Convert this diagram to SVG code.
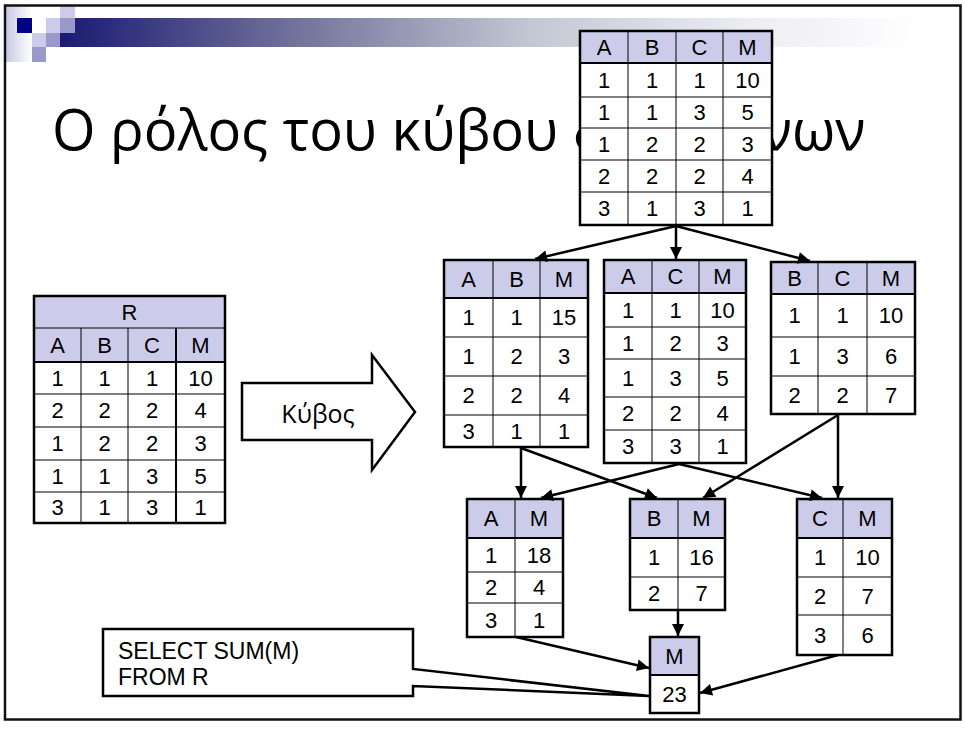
<svg xmlns="http://www.w3.org/2000/svg" width="965" height="729" viewBox="0 0 965 729">
<defs>
<linearGradient id="band" x1="0" y1="0" x2="1" y2="0">
<stop offset="0" stop-color="#1a1a73"/>
<stop offset="0.3" stop-color="#7a7aa0"/>
<stop offset="0.55" stop-color="#c4c8d4"/>
<stop offset="0.8" stop-color="#ececf2"/>
<stop offset="1" stop-color="#ffffff"/>
</linearGradient>
<linearGradient id="leftg" x1="0" y1="0" x2="1" y2="0">
<stop offset="0" stop-color="#c8c8e4"/>
<stop offset="1" stop-color="#ffffff"/>
</linearGradient>
<marker id="ah" viewBox="0 0 10 10" refX="10" refY="5" markerWidth="13" markerHeight="12" markerUnits="userSpaceOnUse" orient="auto">
<path d="M0,0 L10,5 L0,10 z" fill="#000"/>
</marker>
<style>
.hd{fill:#ccccea}
.cell{fill:#fff}
.ol{fill:none;stroke:#000;stroke-width:2.5}
.il{stroke:#000;stroke-width:1;fill:none}
.tl{stroke:#000;stroke-width:2;fill:none}
.t{font-family:"Liberation Sans",Arial,sans-serif;font-size:22px;text-anchor:middle;fill:#000}
.q{font-family:"Liberation Sans",Arial,sans-serif;font-size:23px;fill:#000}
.con line{stroke:#000;stroke-width:2.5;fill:none}
.con .a{marker-end:url(#ah)}
</style>
</defs>
<rect x="0" y="0" width="965" height="729" fill="#fff"/>
<g id="decor">
<rect x="5" y="6" width="27" height="56" fill="url(#leftg)"/>
<rect x="60" y="18" width="860" height="29" fill="url(#band)"/>
<rect x="17" y="18" width="15" height="15" fill="#000080"/>
<rect x="60" y="5" width="15" height="13" fill="#ccccea"/>
<rect x="46" y="18" width="14" height="15" fill="#ccccea"/>
<rect x="60" y="18" width="15" height="15" fill="#9999cc"/>
<rect x="32" y="33" width="14" height="14" fill="#ccccea"/>
<rect x="46" y="33" width="14" height="14" fill="#9999cc"/>
<rect x="32" y="47" width="14" height="15" fill="#9999cc"/>
</g>
<text id="title" x="52" y="150" font-family="'Open Sans','Noto Sans',sans-serif" font-size="56" fill="#000">Ο ρόλος του κύβου δεδομένων</text>

<g id="tableR">
<rect x="34" y="296" width="191" height="66" class="hd"/>
<rect x="34" y="362" width="191" height="161" class="cell"/>
<line class="il" x1="34" y1="328" x2="225" y2="328"/>
<line class="tl" x1="34" y1="362" x2="225" y2="362"/>
<line class="il" x1="34" y1="394" x2="225" y2="394"/>
<line class="il" x1="34" y1="427" x2="225" y2="427"/>
<line class="il" x1="34" y1="460" x2="225" y2="460"/>
<line class="il" x1="34" y1="492" x2="225" y2="492"/>
<line class="il" x1="81" y1="328" x2="81" y2="523"/>
<line class="il" x1="128" y1="328" x2="128" y2="523"/>
<line class="tl" x1="176" y1="328" x2="176" y2="523"/>
<rect x="34" y="296" width="191" height="227" class="ol"/>
<text class="t" x="129.5" y="320">R</text>
<text class="t" x="57.5" y="353">A</text><text class="t" x="104.5" y="353">B</text><text class="t" x="152" y="353">C</text><text class="t" x="200.5" y="353">M</text>
<text class="t" x="57.5" y="386">1</text><text class="t" x="104.5" y="386">1</text><text class="t" x="152" y="386">1</text><text class="t" x="200.5" y="386">10</text>
<text class="t" x="57.5" y="418">2</text><text class="t" x="104.5" y="418">2</text><text class="t" x="152" y="418">2</text><text class="t" x="200.5" y="418">4</text>
<text class="t" x="57.5" y="451">1</text><text class="t" x="104.5" y="451">2</text><text class="t" x="152" y="451">2</text><text class="t" x="200.5" y="451">3</text>
<text class="t" x="57.5" y="484">1</text><text class="t" x="104.5" y="484">1</text><text class="t" x="152" y="484">3</text><text class="t" x="200.5" y="484">5</text>
<text class="t" x="57.5" y="515">3</text><text class="t" x="104.5" y="515">1</text><text class="t" x="152" y="515">3</text><text class="t" x="200.5" y="515">1</text>
</g>

<g id="cube">
<polygon points="242,383 372,383 372,355 415,412 372,470 372,440 242,440" fill="#fff" stroke="#000" stroke-width="2.5" stroke-linejoin="miter"/>
<text x="318" y="423" font-family="'Open Sans','Noto Sans',sans-serif" font-size="25" text-anchor="middle" fill="#000">Κύβος</text>
</g>

<g id="tableABCM">
<rect x="580" y="31" width="192" height="32" class="hd"/>
<rect x="580" y="63" width="192" height="162" class="cell"/>
<line class="tl" x1="580" y1="63" x2="772" y2="63"/>
<line class="il" x1="580" y1="97" x2="772" y2="97"/>
<line class="il" x1="580" y1="128" x2="772" y2="128"/>
<line class="il" x1="580" y1="160" x2="772" y2="160"/>
<line class="il" x1="580" y1="192" x2="772" y2="192"/>
<line class="il" x1="628" y1="31" x2="628" y2="225"/>
<line class="il" x1="676" y1="31" x2="676" y2="225"/>
<line class="il" x1="723" y1="31" x2="723" y2="225"/>
<rect x="580" y="31" width="192" height="194" class="ol"/>
<text class="t" x="604" y="55">A</text><text class="t" x="652" y="55">B</text><text class="t" x="699.5" y="55">C</text><text class="t" x="747.5" y="55">M</text>
<text class="t" x="604" y="88">1</text><text class="t" x="652" y="88">1</text><text class="t" x="699.5" y="88">1</text><text class="t" x="747.5" y="88">10</text>
<text class="t" x="604" y="120">1</text><text class="t" x="652" y="120">1</text><text class="t" x="699.5" y="120">3</text><text class="t" x="747.5" y="120">5</text>
<text class="t" x="604" y="152">1</text><text class="t" x="652" y="152">2</text><text class="t" x="699.5" y="152">2</text><text class="t" x="747.5" y="152">3</text>
<text class="t" x="604" y="184">2</text><text class="t" x="652" y="184">2</text><text class="t" x="699.5" y="184">2</text><text class="t" x="747.5" y="184">4</text>
<text class="t" x="604" y="216">3</text><text class="t" x="652" y="216">1</text><text class="t" x="699.5" y="216">3</text><text class="t" x="747.5" y="216">1</text>
</g>

<g id="tableABM">
<rect x="444" y="260" width="144" height="38" class="hd"/>
<rect x="444" y="298" width="144" height="149" class="cell"/>
<line class="tl" x1="444" y1="298" x2="588" y2="298"/>
<line class="il" x1="444" y1="337" x2="588" y2="337"/>
<line class="il" x1="444" y1="376" x2="588" y2="376"/>
<line class="il" x1="444" y1="415" x2="588" y2="415"/>
<line class="il" x1="493" y1="260" x2="493" y2="447"/>
<line class="il" x1="540" y1="260" x2="540" y2="447"/>
<rect x="444" y="260" width="144" height="187" class="ol"/>
<text class="t" x="468.5" y="287">A</text><text class="t" x="516.5" y="287">B</text><text class="t" x="564" y="287">M</text>
<text class="t" x="468.5" y="325">1</text><text class="t" x="516.5" y="325">1</text><text class="t" x="564" y="325">15</text>
<text class="t" x="468.5" y="364">1</text><text class="t" x="516.5" y="364">2</text><text class="t" x="564" y="364">3</text>
<text class="t" x="468.5" y="403">2</text><text class="t" x="516.5" y="403">2</text><text class="t" x="564" y="403">4</text>
<text class="t" x="468.5" y="439">3</text><text class="t" x="516.5" y="439">1</text><text class="t" x="564" y="439">1</text>
</g>

<g id="tableACM">
<rect x="604" y="260" width="142" height="33" class="hd"/>
<rect x="604" y="293" width="142" height="170" class="cell"/>
<line class="tl" x1="604" y1="293" x2="746" y2="293"/>
<line class="il" x1="604" y1="327" x2="746" y2="327"/>
<line class="il" x1="604" y1="359" x2="746" y2="359"/>
<line class="il" x1="604" y1="397" x2="746" y2="397"/>
<line class="il" x1="604" y1="430" x2="746" y2="430"/>
<line class="il" x1="652" y1="260" x2="652" y2="463"/>
<line class="il" x1="699" y1="260" x2="699" y2="463"/>
<rect x="604" y="260" width="142" height="203" class="ol"/>
<text class="t" x="628" y="284">A</text><text class="t" x="675.5" y="284">C</text><text class="t" x="722.5" y="284">M</text>
<text class="t" x="628" y="318">1</text><text class="t" x="675.5" y="318">1</text><text class="t" x="722.5" y="318">10</text>
<text class="t" x="628" y="351">1</text><text class="t" x="675.5" y="351">2</text><text class="t" x="722.5" y="351">3</text>
<text class="t" x="628" y="386">1</text><text class="t" x="675.5" y="386">3</text><text class="t" x="722.5" y="386">5</text>
<text class="t" x="628" y="421">2</text><text class="t" x="675.5" y="421">2</text><text class="t" x="722.5" y="421">4</text>
<text class="t" x="628" y="454">3</text><text class="t" x="675.5" y="454">3</text><text class="t" x="722.5" y="454">1</text>
</g>

<g id="tableBCM">
<rect x="771" y="262" width="144" height="32" class="hd"/>
<rect x="771" y="294" width="144" height="120" class="cell"/>
<line class="tl" x1="771" y1="294" x2="915" y2="294"/>
<line class="il" x1="771" y1="337" x2="915" y2="337"/>
<line class="il" x1="771" y1="376" x2="915" y2="376"/>
<line class="il" x1="818" y1="262" x2="818" y2="414"/>
<line class="il" x1="867" y1="262" x2="867" y2="414"/>
<rect x="771" y="262" width="144" height="152" class="ol"/>
<text class="t" x="794.5" y="286">B</text><text class="t" x="842.5" y="286">C</text><text class="t" x="891" y="286">M</text>
<text class="t" x="794.5" y="323">1</text><text class="t" x="842.5" y="323">1</text><text class="t" x="891" y="323">10</text>
<text class="t" x="794.5" y="364">1</text><text class="t" x="842.5" y="364">3</text><text class="t" x="891" y="364">6</text>
<text class="t" x="794.5" y="403">2</text><text class="t" x="842.5" y="403">2</text><text class="t" x="891" y="403">7</text>
</g>

<g id="tableAM">
<rect x="467" y="499" width="96" height="39" class="hd"/>
<rect x="467" y="538" width="96" height="99" class="cell"/>
<line class="tl" x1="467" y1="538" x2="563" y2="538"/>
<line class="il" x1="467" y1="572" x2="563" y2="572"/>
<line class="il" x1="467" y1="603" x2="563" y2="603"/>
<line class="il" x1="515" y1="499" x2="515" y2="637"/>
<rect x="467" y="499" width="96" height="138" class="ol"/>
<text class="t" x="491" y="526">A</text><text class="t" x="539" y="526">M</text>
<text class="t" x="491" y="563">1</text><text class="t" x="539" y="563">18</text>
<text class="t" x="491" y="595">2</text><text class="t" x="539" y="595">4</text>
<text class="t" x="491" y="628">3</text><text class="t" x="539" y="628">1</text>
</g>

<g id="tableBM">
<rect x="630" y="499" width="95" height="39" class="hd"/>
<rect x="630" y="538" width="95" height="72" class="cell"/>
<line class="tl" x1="630" y1="538" x2="725" y2="538"/>
<line class="il" x1="630" y1="577" x2="725" y2="577"/>
<line class="il" x1="678" y1="499" x2="678" y2="610"/>
<rect x="630" y="499" width="95" height="111" class="ol"/>
<text class="t" x="654" y="526">B</text><text class="t" x="701.5" y="526">M</text>
<text class="t" x="654" y="565">1</text><text class="t" x="701.5" y="565">16</text>
<text class="t" x="654" y="601">2</text><text class="t" x="701.5" y="601">7</text>
</g>

<g id="tableCM">
<rect x="797" y="499" width="95" height="39" class="hd"/>
<rect x="797" y="538" width="95" height="117" class="cell"/>
<line class="tl" x1="797" y1="538" x2="892" y2="538"/>
<line class="il" x1="797" y1="577" x2="892" y2="577"/>
<line class="il" x1="797" y1="615" x2="892" y2="615"/>
<line class="il" x1="843" y1="499" x2="843" y2="655"/>
<rect x="797" y="499" width="95" height="156" class="ol"/>
<text class="t" x="820" y="526">C</text><text class="t" x="867.5" y="526">M</text>
<text class="t" x="820" y="565">1</text><text class="t" x="867.5" y="565">10</text>
<text class="t" x="820" y="604">2</text><text class="t" x="867.5" y="604">7</text>
<text class="t" x="820" y="643">3</text><text class="t" x="867.5" y="643">6</text>
</g>

<g id="tableM">
<rect x="650" y="637" width="49" height="38" class="hd"/>
<rect x="650" y="675" width="49" height="38" class="cell"/>
<line class="tl" x1="650" y1="675" x2="699" y2="675"/>
<rect x="650" y="637" width="49" height="76" class="ol"/>
<text class="t" x="674.5" y="664">M</text>
<text class="t" x="674.5" y="702">23</text>
</g>

<g id="query">
<path d="M103,629 L413,629 L413,669 L649,696 L413,686 L413,696 L103,696 Z" fill="#fff" stroke="#000" stroke-width="2.5" stroke-linejoin="miter"/>
<text class="q" x="118" y="659">SELECT SUM(M)</text>
<text class="q" x="118" y="685">FROM R</text>
</g>

<g id="connectors" class="con">
<line class="a" x1="676" y1="226" x2="535" y2="259"/>
<line class="a" x1="676" y1="226" x2="676" y2="259"/>
<line class="a" x1="676" y1="226" x2="810" y2="261"/>
<line class="a" x1="521" y1="448" x2="521" y2="498"/>
<line class="a" x1="521" y1="448" x2="657" y2="498"/>
<line class="a" x1="679" y1="464" x2="541" y2="498"/>
<line class="a" x1="679" y1="464" x2="822" y2="498"/>
<line class="a" x1="838" y1="415" x2="703" y2="498"/>
<line class="a" x1="838" y1="415" x2="838" y2="498"/>
<line class="a" x1="678" y1="610" x2="678" y2="636"/>
<line class="a" x1="516" y1="637" x2="649" y2="668"/>
<line class="a" x1="838" y1="655" x2="700" y2="693"/>
</g>

<rect id="frame" x="5" y="5.5" width="955.5" height="714" fill="none" stroke="#111" stroke-width="2.5"/>
</svg>
